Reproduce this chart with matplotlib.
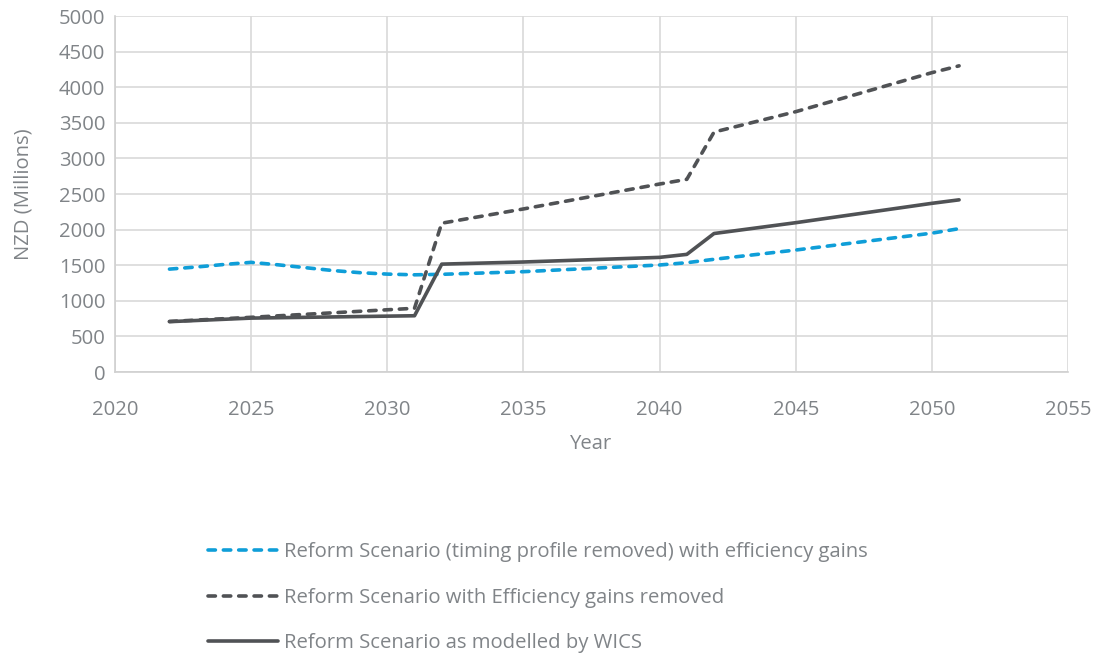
import matplotlib
matplotlib.use("Agg")
import matplotlib.pyplot as plt

years_blue = [2022, 2023, 2024, 2025, 2026, 2027, 2028, 2029, 2030, 2031, 2032, 2035, 2040, 2041, 2042, 2045, 2050, 2051]
blue_vals = [1445, 1475, 1510, 1540, 1505, 1465, 1425, 1395, 1375, 1365, 1372, 1409, 1503, 1535, 1583, 1713, 1950, 2013]

years_grey = [2022, 2025, 2031, 2032, 2035, 2040, 2041, 2042, 2045, 2050, 2051]
dashed_vals = [710, 768, 895, 2090, 2290, 2640, 2706, 3370, 3656, 4204, 4300]
wics_vals = [707, 757, 790, 1515, 1545, 1610, 1652, 1945, 2097, 2369, 2418]

labels = [
    "Reform Scenario (timing profile removed) with efficiency gains",
    "Reform Scenario with Efficiency gains removed",
    "Reform Scenario as modelled by WICS",
]
xticks = [2020, 2025, 2030, 2035, 2040, 2045, 2050, 2055]
yticks = [0, 500, 1000, 1500, 2000, 2500, 3000, 3500, 4000, 4500, 5000]

plt.rcParams['font.family'] = ['Open Sans', 'DejaVu Sans']
txt = '#808488'
blue = '#0f9ed8'
grey = '#505255'
fs = 14.6

fig = plt.figure(figsize=(11.02, 6.57), dpi=100)
ax = fig.add_axes([115/1102, 1-372/657, (1068-115)/1102, (372-16)/657])

dash = (0, (2.05, 2.2))
l1, = ax.plot(years_blue, blue_vals, color=blue, lw=2.6, linestyle=dash, dash_capstyle='round')
l2, = ax.plot(years_grey, dashed_vals, color=grey, lw=2.6, linestyle=dash, dash_capstyle='round')
l3, = ax.plot(years_grey, wics_vals, color=grey, lw=2.6, solid_capstyle='round')

ax.set_xlim(2020, 2055)
ax.set_ylim(0, 5000)
ax.set_xticks(xticks)
ax.set_yticks(yticks)
ax.grid(True, color='#d9d9d9', lw=1.2)
ax.set_axisbelow(True)
for s in ['top', 'right']:
    ax.spines[s].set_visible(False)
for s in ['left', 'bottom']:
    ax.spines[s].set_color('#d0d0d0')
    ax.spines[s].set_linewidth(1.2)
ax.tick_params(axis='both', length=0, labelsize=fs, labelcolor=txt)
ax.tick_params(axis='y', pad=7)
ax.tick_params(axis='x', pad=20)
ax.set_xlabel("Year", fontsize=fs, color=txt, labelpad=10.5)
ax.set_ylabel("NZD (Millions)", fontsize=fs, color=txt, labelpad=18)

fig.legend([l1, l2, l3], labels, loc='upper left', bbox_to_anchor=(190/1102, 1-524/657),
           frameon=False, fontsize=fs, labelcolor=txt, handlelength=3.45, handletextpad=0.3,
           labelspacing=1.25)

fig.savefig("out.png", dpi=100)
